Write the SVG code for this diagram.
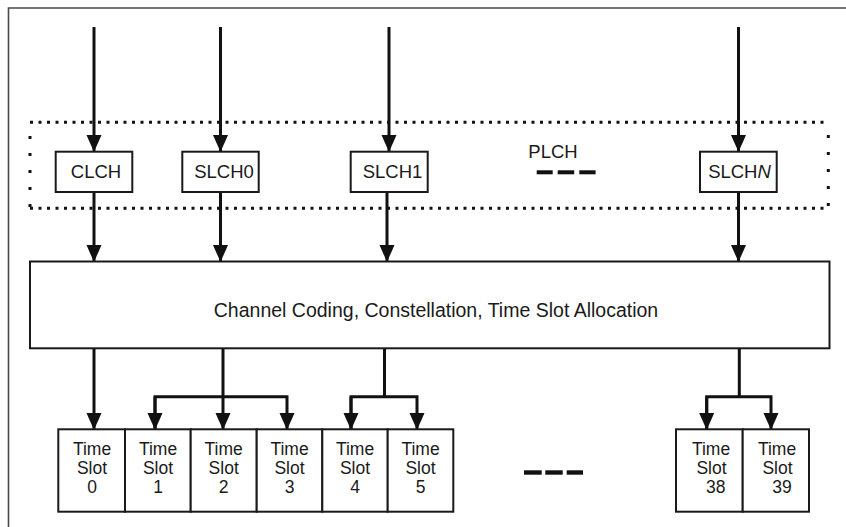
<svg xmlns="http://www.w3.org/2000/svg" width="846" height="527" viewBox="0 0 846 527">
<style>
.box{fill:#fff;stroke:#1a1a1a;stroke-width:2}
.ln{fill:none;stroke:#111;stroke-width:3}
.t{font-family:"Liberation Sans",Arial,sans-serif;fill:#1a1a1a;text-anchor:middle}
.lab{font-size:18.5px}
.slot{font-size:17.5px}
.dash{fill:#111}
</style>
<defs>
<marker id="ah" markerUnits="userSpaceOnUse" markerWidth="17" markerHeight="17" viewBox="0 0 17 15" refX="16" refY="7.5" orient="auto">
<path d="M0,0 L17,7.5 L0,15 Z" fill="#111"/>
</marker>
</defs>
<rect width="846" height="527" fill="#fff"/>
<path d="M8.5,527 V8 H846" fill="none" stroke="#4a4a4a" stroke-width="1.6"/>

<g id="plch">
<path d="M30,122.3 H828.3 M30,208.3 H828.3" fill="none" stroke="#111" stroke-width="3" stroke-dasharray="3 5.5"/>
<path d="M30,136 V208 M828.3,135 V208" fill="none" stroke="#111" stroke-width="3" stroke-dasharray="3 14"/>
<text class="t lab" x="553" y="158">PLCH</text>
<rect class="dash" x="536.7" y="170.3" width="16" height="4"/>
<rect class="dash" x="557.7" y="170.3" width="16.5" height="4"/>
<rect class="dash" x="579.3" y="170.3" width="16.3" height="4"/>
</g>

<g id="connectors">
<path class="ln" d="M94,27 V151" marker-end="url(#ah)"/>
<path class="ln" d="M220.5,27 V151" marker-end="url(#ah)"/>
<path class="ln" d="M389,27 V151" marker-end="url(#ah)"/>
<path class="ln" d="M738.5,27 V151" marker-end="url(#ah)"/>
<path class="ln" d="M94,192 V261" marker-end="url(#ah)"/>
<path class="ln" d="M220.5,192 V261" marker-end="url(#ah)"/>
<path class="ln" d="M387,192 V261" marker-end="url(#ah)"/>
<path class="ln" d="M738.5,192 V261" marker-end="url(#ah)"/>
<path class="ln" d="M94,348 V429" marker-end="url(#ah)"/>
<path class="ln" d="M223,348 V429" marker-end="url(#ah)"/>
<path class="ln" d="M155,429 V396.7 H287 V429" marker-end="url(#ah)"/>
<path class="ln" d="M155,397 V429" marker-end="url(#ah)"/>
<path class="ln" d="M384.5,348 V396.7"/>
<path class="ln" d="M351,429 V396.7 H417 V429" marker-end="url(#ah)"/>
<path class="ln" d="M351,397 V429" marker-end="url(#ah)"/>
<path class="ln" d="M739.3,348 V396.7"/>
<path class="ln" d="M706.7,429 V396.7 H771 V429" marker-end="url(#ah)"/>
<path class="ln" d="M706.7,397 V429" marker-end="url(#ah)"/>
</g>

<g id="clch"><rect class="box" x="55.7" y="151.7" width="76.6" height="40.3"/><text class="t lab" x="96" y="178.3">CLCH</text></g>
<g id="slch0"><rect class="box" x="182.3" y="151.7" width="76.4" height="40.3"/><text class="t lab" x="224" y="178.3">SLCH0</text></g>
<g id="slch1"><rect class="box" x="350.7" y="151.7" width="77" height="40.3"/><text class="t lab" x="392.5" y="178.3">SLCH1</text></g>
<g id="slchn"><rect class="box" x="700" y="151.7" width="76.7" height="40.3"/><text class="t lab" x="739.5" y="178.3">SLCH<tspan font-style="italic">N</tspan></text></g>

<g id="coding"><rect class="box" x="30" y="261.5" width="799.5" height="86.8"/><text class="t" font-size="19.5" x="436" y="316.7">Channel Coding, Constellation, Time Slot Allocation</text></g>

<g id="slot0"><rect class="box" x="58.3" y="429.3" width="66.7" height="82.4"/><text class="t slot" x="92" y="455">Time</text><text class="t slot" x="92" y="474.3">Slot</text><text class="t slot" x="92" y="493.3">0</text></g>
<g id="slot1"><rect class="box" x="125" y="429.3" width="65.7" height="82.4"/><text class="t slot" x="158" y="455">Time</text><text class="t slot" x="158" y="474.3">Slot</text><text class="t slot" x="158" y="493.3">1</text></g>
<g id="slot2"><rect class="box" x="190.7" y="429.3" width="66" height="82.4"/><text class="t slot" x="223.7" y="455">Time</text><text class="t slot" x="223.7" y="474.3">Slot</text><text class="t slot" x="223.7" y="493.3">2</text></g>
<g id="slot3"><rect class="box" x="256.7" y="429.3" width="65.6" height="82.4"/><text class="t slot" x="289.5" y="455">Time</text><text class="t slot" x="289.5" y="474.3">Slot</text><text class="t slot" x="289.5" y="493.3">3</text></g>
<g id="slot4"><rect class="box" x="322.3" y="429.3" width="65.4" height="82.4"/><text class="t slot" x="355" y="455">Time</text><text class="t slot" x="355" y="474.3">Slot</text><text class="t slot" x="355" y="493.3">4</text></g>
<g id="slot5"><rect class="box" x="387.7" y="429.3" width="65.6" height="82.4"/><text class="t slot" x="420.5" y="455">Time</text><text class="t slot" x="420.5" y="474.3">Slot</text><text class="t slot" x="420.5" y="493.3">5</text></g>
<g id="slot38"><rect class="box" x="676" y="429.3" width="66.7" height="82.4"/><text class="t slot" x="711" y="455">Time</text><text class="t slot" x="711.5" y="474.3">Slot</text><text class="t slot" x="715.7" y="493.3">38</text></g>
<g id="slot39"><rect class="box" x="742.7" y="429.3" width="66.3" height="82.4"/><text class="t slot" x="777" y="455">Time</text><text class="t slot" x="777.5" y="474.3">Slot</text><text class="t slot" x="782" y="493.3">39</text></g>

<g id="ellipsis">
<rect class="dash" x="524" y="470.3" width="17.7" height="4.4"/>
<rect class="dash" x="545.3" y="470.3" width="17.4" height="4.4"/>
<rect class="dash" x="566.7" y="470.3" width="16.3" height="4.4"/>
</g>
</svg>
